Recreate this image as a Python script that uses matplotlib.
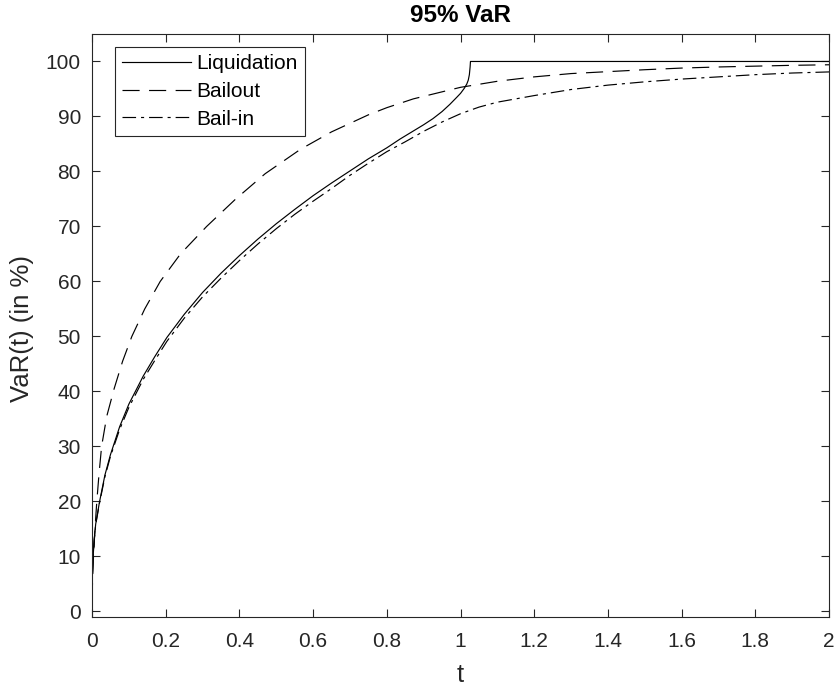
import matplotlib.pyplot as plt
import numpy as np

plt.rcParams['font.family'] = ['Liberation Sans', 'DejaVu Sans']

# values
t_liq = [0, 0.001, 0.003, 0.006, 0.01, 0.02, 0.035, 0.05, 0.075, 0.1, 0.139, 0.17,
         0.203, 0.25, 0.3, 0.35, 0.4, 0.45, 0.5, 0.55, 0.6, 0.65, 0.7, 0.75, 0.8,
         0.836, 0.9, 0.925, 0.95, 0.971, 0.99, 1.0, 1.01, 1.017, 1.021, 1.024, 1.026,
         1.027, 1.5, 2.0]
v_liq = [1.8, 6.6, 10, 13.1, 15.9, 19.8, 24.8, 28.5, 33.6, 37.7, 42.8, 46.3,
         49.8, 54.0, 58.0, 61.5, 64.7, 67.7, 70.5, 73.1, 75.6, 77.9, 80.1, 82.3, 84.3,
         85.9, 88.5, 89.6, 90.9, 92.2, 93.5, 94.2, 95.1, 95.9, 96.6, 97.6, 99.0,
         100, 100, 100]

t_bo = [0, 0.002, 0.004, 0.008, 0.013, 0.019, 0.026, 0.04, 0.06, 0.083, 0.108, 0.143,
        0.185, 0.24, 0.311, 0.39, 0.47, 0.565, 0.65, 0.75, 0.8, 0.872, 1.0, 1.1, 1.2,
        1.3, 1.414, 1.5, 1.6, 1.7, 1.8, 1.9, 2.0]
v_bo = [2, 7, 10, 15, 20, 25, 30, 35.5, 40.5, 45.5, 50, 55,
        60, 65, 70, 75, 79.6, 84.0, 87.2, 90.3, 91.6, 93.2, 95.3, 96.4, 97.2,
        97.8, 98.2, 98.5, 98.8, 99.0, 99.15, 99.3, 99.4]

t_bi = [0, 0.001, 0.003, 0.006, 0.01, 0.02, 0.035, 0.05, 0.075, 0.1, 0.139, 0.17,
        0.203, 0.25, 0.3, 0.35, 0.4, 0.45, 0.5, 0.55, 0.6, 0.65, 0.7, 0.75, 0.8,
        0.85, 0.9, 0.95, 1.0, 1.05, 1.1, 1.2, 1.3, 1.4, 1.5, 1.6, 1.7, 1.8, 1.9, 2.0]
v_bi = [1.8, 6.5, 10, 13, 15.8, 19.6, 24.5, 28.2, 33.1, 37.1, 42.2, 45.6,
        49.1, 53.3, 57.2, 60.6, 63.8, 66.8, 69.6, 72.2, 74.6, 76.9, 79.3, 81.5, 83.6,
        85.4, 87.3, 89.0, 90.5, 91.7, 92.6, 93.8, 94.9, 95.7, 96.3, 96.8, 97.2, 97.6, 97.9, 98.1]

xticks = np.arange(0, 2.01, 0.2)
xticklabels = ['0', '0.2', '0.4', '0.6', '0.8', '1', '1.2', '1.4', '1.6', '1.8', '2']
yticks = np.arange(0, 101, 10)

fig = plt.figure(figsize=(8.38, 6.89), dpi=100)
ax = fig.add_axes([0.1098, 0.1045, 0.8795, 0.8462])

lw = 0.85
ax.plot(t_liq, v_liq, color='k', lw=lw, linestyle='-', label='Liquidation')
ax.plot(t_bo, v_bo, color='k', lw=lw, linestyle=(0, (14.5, 8)), label='Bailout')
ax.plot(t_bi, v_bi, color='k', lw=lw, linestyle=(0, (11.5, 4.2, 2.6, 4.2)), label='Bail-in')

ax.set_xlim(0, 2)
ax.set_ylim(-1, 105)
ax.set_xticks(xticks)
ax.set_xticklabels(xticklabels)
ax.set_yticks(yticks)
ax.tick_params(direction='in', length=5.5, width=0.8, top=True, right=True,
               labelsize=15, colors='#262626', labelcolor='#262626')
ax.tick_params(axis='x', pad=11)
ax.tick_params(axis='y', pad=8)
for s in ax.spines.values():
    s.set_color('#262626')
    s.set_linewidth(0.8)

ax.set_xlabel('t', fontsize=18.5, color='#262626', va='center')
ax.xaxis.set_label_coords(0.5, -0.0995)
ax.set_ylabel('VaR(t) (in %)', fontsize=18.5, color='#262626', va='center')
ax.yaxis.set_label_coords(-0.095, 0.494)
ax.set_title('95% VaR', fontsize=17.5, fontweight='bold', pad=8.5)

leg = ax.legend(loc='upper left', bbox_to_anchor=(0.0312, 0.9777), borderaxespad=0,
                fontsize=15, fancybox=False, framealpha=1, edgecolor='#262626',
                handlelength=3.3, borderpad=0.35, labelspacing=0.42, handletextpad=0.25)
leg.get_frame().set_linewidth(0.8)

fig.savefig('out.png', dpi=100)
